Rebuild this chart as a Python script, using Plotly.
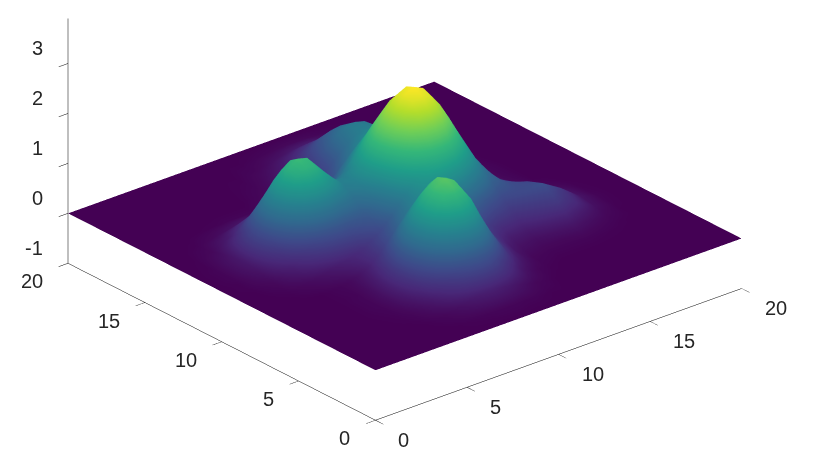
import plotly.graph_objects as go

x_vals = [0,1,2,3,4,4.5,5,5.5,6,7,7.5,8,8.5,9,9.5,10,10.5,11,11.5,12,13,14,15,16,17,18,19,20]
y_vals = [0,1,2,3,4,4.5,5,5.5,6,7,8,9,9.5,10,10.5,11,11.5,12,13,14,15,16,17,18,19,20]
y00_0 = [0]*28
y01_0 = [0,0,0,0,0,0,0,.01,.02,.03,.04,.04,.04,.03,.03,.02,.01,.01,0,0,0,0,0,0,0,0,0,0]
y02_0 = [0,0,0,0,0,.01,.03,.05,.09,.19,.22,.24,.22,.19,.14,.09,.05,.03,.01,0,0,0,0,0,0,0,0,0]
y03_0 = [0,0,0,0,.02,.04,.09,.17,.30,.61,.73,.77,.73,.61,.45,.30,.17,.09,.04,.02,0,0,0,0,0,0,0,0]
y04_0 = [0,0,0,.01,.03,.09,.19,.35,.61,1.25,1.48,1.59,1.50,1.27,.95,.64,.38,.22,.12,.05,.03,.03,.03,.02,.01,0,0,0]
y04_5 = [0,0,0,.01,.04,.10,.23,.42,.73,1.50,1.79,1.91,1.81,1.54,1.15,.79,.48,.29,.15,.09,.06,.06,.08,.05,.02,0,0,0]
y05_0 = [0,0,0,.01,.04,.11,.24,.45,.78,1.58,1.88,2.0,1.90,1.63,1.25,.88,.57,.36,.21,.14,.10,.13,.16,.10,.04,.01,0,0]
y05_5 = [0,0,0,.01,.04,.10,.23,.43,.75,1.53,1.82,1.95,1.87,1.62,1.27,.93,.64,.44,.30,.21,.18,.24,.29,.19,.07,.01,0,0]
y06_0 = [0,0,0,.01,.03,.09,.20,.37,.64,1.33,1.60,1.75,1.70,1.53,1.24,.96,.71,.54,.41,.33,.29,.38,.45,.31,.11,.02,0,0]
y07_0 = [0,0,0,.01,.04,.07,.14,.24,.39,.81,1.02,1.17,1.26,1.27,1.22,1.15,1.05,.94,.82,.71,.55,.61,.67,.44,.15,.03,0,0]
y08_0 = [0,0,.02,.07,.15,.20,.25,.29,.36,.61,.79,1.01,1.23,1.43,1.58,1.68,1.69,1.62,1.45,1.26,.86,.65,.55,.34,.12,.02,0,0]
y09_0 = [0,.01,.06,.23,.51,.64,.70,.73,.71,.77,.95,1.19,1.52,1.84,2.13,2.33,2.39,2.32,2.10,1.81,1.13,.61,.34,.15,.05,.01,0,0]
y09_5 = [0,.02,.10,.37,.80,.98,1.07,1.07,1.00,.93,1.06,1.30,1.64,2.00,2.32,2.54,2.62,2.54,2.31,1.98,1.22,.61,.28,.11,.03,0,0,0]
y10_0 = [0,.02,.14,.50,1.10,1.34,1.46,1.43,1.31,1.08,1.17,1.38,1.70,2.06,2.39,2.63,2.71,2.63,2.39,2.05,1.26,.60,.25,.08,.01,0,0,0]
y10_5 = [0,.03,.17,.61,1.32,1.62,1.75,1.71,1.52,1.17,1.20,1.37,1.67,2.02,2.34,2.56,2.65,2.57,2.34,2.01,1.22,.57,.22,.06,.01,0,0,0]
y11_0 = [0,.03,.18,.65,1.41,1.72,1.85,1.80,1.59,1.16,1.15,1.28,1.54,1.85,2.14,2.35,2.43,2.37,2.16,1.86,1.13,.53,.20,.05,.01,0,0,0]
y11_5 = [0,.03,.17,.61,1.32,1.61,1.74,1.68,1.48,1.05,1.02,1.12,1.35,1.61,1.87,2.06,2.14,2.09,1.92,1.65,1.02,.48,.18,.05,.01,0,0,0]
y12_0 = [0,.02,.14,.50,1.10,1.33,1.44,1.38,1.22,.86,.83,.92,1.10,1.33,1.56,1.73,1.82,1.79,1.65,1.44,.89,.42,.16,.05,.01,0,0,0]
y13_0 = [0,.01,.06,.23,.50,.61,.67,.65,.57,.44,.45,.52,.67,.84,1.02,1.19,1.30,1.33,1.27,1.14,.74,.36,.13,.04,0,0,0,0]
y14_0 = [0,0,.02,.07,.14,.17,.19,.19,.17,.18,.21,.29,.41,.57,.74,.92,1.07,1.16,1.16,1.09,.74,.37,.13,.04,0,0,0,0]
y15_0 = [0,0,0,.01,.02,.03,.03,.03,.03,.07,.10,.17,.28,.43,.60,.80,.96,1.08,1.10,1.05,.73,.37,.13,.03,0,0,0,0]
y16_0 = [0,0,0,0,0,0,0,0,0,.04,.06,.11,.20,.31,.45,.60,.74,.84,.87,.83,.58,.30,.10,.03,0,0,0,0]
y17_0 = [0,0,0,0,0,0,0,0,0,.02,.03,.06,.11,.17,.25,.34,.42,.48,.50,.48,.34,.17,.06,.02,0,0,0,0]
y18_0 = [0,0,0,0,0,0,0,0,0,.01,.01,.03,.04,.07,.11,.14,.18,.20,.21,.20,.14,.07,.03,.01,0,0,0,0]
y19_0 = [0,0,0,0,0,0,0,0,0,0,0,.01,.01,.02,.03,.04,.05,.06,.06,.06,.04,.02,.01,0,0,0,0,0]
y20_0 = [0]*28
z_rows = [y00_0,y01_0,y02_0,y03_0,y04_0,y04_5,y05_0,y05_5,y06_0,y07_0,y08_0,y09_0,y09_5,y10_0,
          y10_5,y11_0,y11_5,y12_0,y13_0,y14_0,y15_0,y16_0,y17_0,y18_0,y19_0,y20_0]
xy_ticks = [0,5,10,15,20]
z_ticks = [-1,0,1,2,3]

ink = "#000000"
text_ink = "#262626"
def axis(tv, rng):
    return dict(range=rng, tickvals=tv, showticklabels=False, showgrid=False, zeroline=False,
                showbackground=False, showline=True, linecolor=ink, linewidth=1,
                ticks="outside", ticklen=12, tickcolor=ink, tickwidth=1, title=dict(text=""),
                showspikes=False)

font = dict(family="Liberation Sans", size=20, color=text_ink)
notes = []
for v in xy_ticks:
    notes.append(dict(x=v, y=0, z=-1, text=str(v), showarrow=False, font=font, xanchor="left", yanchor="middle", xshift=21, yshift=-20))
    notes.append(dict(x=0, y=v, z=-1, text=str(v), showarrow=False, font=font, xanchor="right", yanchor="middle", xshift=-23, yshift=-18))
for v in z_ticks:
    notes.append(dict(x=0, y=20, z=v, text=str(v), showarrow=False, font=font, xanchor="right", yanchor="middle", xshift=-23, yshift=15))

fig = go.Figure(go.Surface(x=x_vals, y=y_vals, z=z_rows, colorscale="Viridis", cmin=0, cmax=2.71,
    showscale=False, lighting=dict(ambient=1, diffuse=0, specular=0, roughness=1, fresnel=0)))
d = 2.0
k = 2.07
ex, ey, ez = -0.581*d, -0.692*d, 0.4286*d
cx, cy, cz = -0.0485, -0.1665, -0.3344
fig.update_layout(width=826, height=462, margin=dict(l=0,r=0,t=0,b=0), paper_bgcolor="white",
    scene=dict(domain=dict(x=[0,1],y=[0,1]), aspectmode="manual", aspectratio=dict(x=k,y=k,z=0.5665*k),
        xaxis=axis(xy_ticks,[0,20]), yaxis=axis(xy_ticks,[0,20]), zaxis=axis(z_ticks,[-1,3.9]),
        annotations=notes,
        camera=dict(projection=dict(type="orthographic"), up=dict(x=0,y=0,z=1),
                    center=dict(x=cx,y=cy,z=cz), eye=dict(x=cx+ex,y=cy+ey,z=cz+ez))))
fig.write_html("out.html")
